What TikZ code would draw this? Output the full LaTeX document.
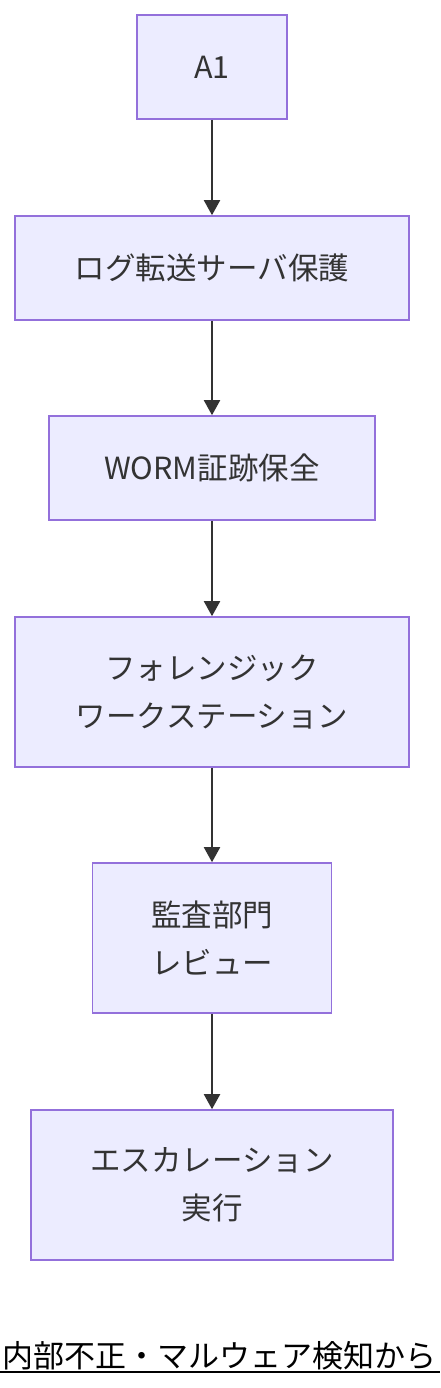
\documentclass[tikz,border=0pt]{standalone}
\usepackage{fontspec}
\setmainfont{Noto Sans CJK JP}
\usetikzlibrary{arrows.meta}
\definecolor{nodefill}{HTML}{ECECFF}
\definecolor{nodeborder}{HTML}{9370DB}
\definecolor{ink}{HTML}{333333}
\begin{document}
\begin{tikzpicture}[x=1pt,y=-1pt,
  box/.style={draw=nodeborder, fill=nodefill, line width=1.6pt, rectangle,
    inner sep=0pt, align=center, text=ink,
    font=\fontsize{30.5}{48}\selectfont},
  flow/.style={draw=ink, line width=2pt, -{Triangle[length=15pt,width=16pt]}}
]
\useasboundingbox (0,0) rectangle (440,1388);
\node[box, minimum width=150pt, minimum height=104pt] (a1) at (212,67) {A1};
\node[box, minimum width=394pt, minimum height=104pt] (log) at (212,268) {ログ転送サーバ保護};
\node[box, minimum width=326pt, minimum height=104pt] (worm) at (212,468) {WORM証跡保全};
\node[box, minimum width=394pt, minimum height=150pt] (fw) at (212,692) {フォレンジック\\ワークステーション};
\node[box, minimum width=239pt, minimum height=150pt] (aud) at (212,938) {監査部門\\レビュー};
\node[box, minimum width=362pt, minimum height=150pt] (esc) at (212,1185) {エスカレーション\\実行};
\draw[flow] (a1.south) -- (log.north);
\draw[flow] (log.south) -- (worm.north);
\draw[flow] (worm.south) -- (fw.north);
\draw[flow] (fw.south) -- (aud.north);
\draw[flow] (aud.south) -- (esc.north);
\node[anchor=base west, inner sep=0pt, text=black, font=\fontsize{31}{36}\selectfont] (title) at (2,1367) {内部不正・マルウェア検知から};
\coordinate (ulend) at ([yshift=-5pt]title.base east -| 440,0);
\draw[black, line width=2pt] ([yshift=-5pt]title.base west -| 0,0) -- (ulend);
\end{tikzpicture}
\end{document}
